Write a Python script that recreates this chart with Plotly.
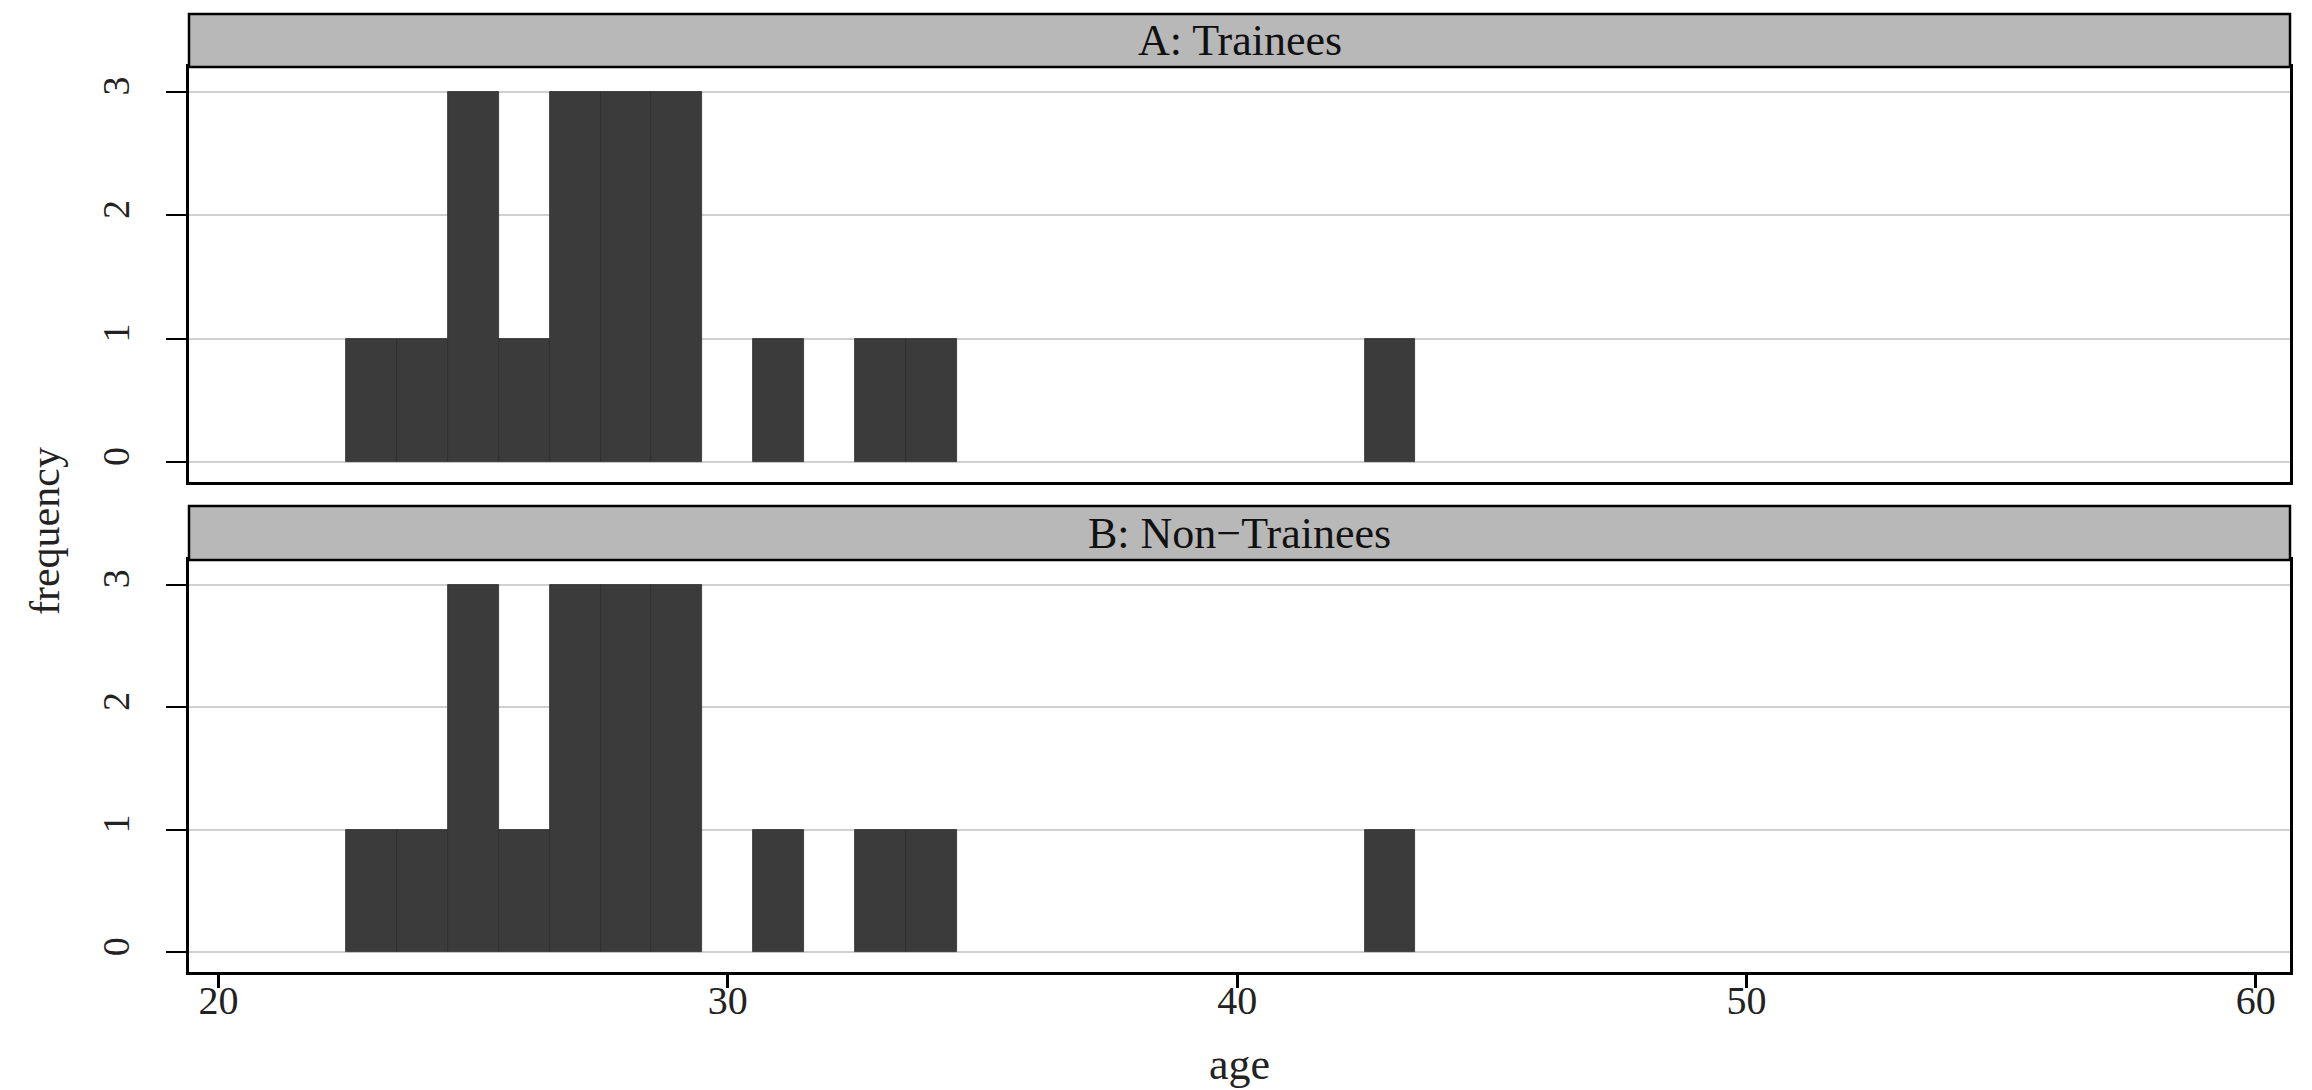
import plotly.graph_objects as go
from plotly.subplots import make_subplots

# Age frequencies (one-year bins centred on whole years)
ages = [23, 24, 25, 26, 27, 28, 29, 31, 33, 34, 43]
trainee_counts = [1, 1, 3, 1, 3, 3, 3, 1, 1, 1, 1]
nontrainee_counts = [1, 1, 3, 1, 3, 3, 3, 1, 1, 1, 1]
panel_titles = ["A: Trainees", "B: Non\u2212Trainees"]
x_ticks = [20, 30, 40, 50, 60]
y_ticks = [0, 1, 2, 3]

FONT = "Liberation Serif, Times New Roman, serif"
BAR = "#3b3b3b"
STRIP = "#b8b8b8"
W, H = 2312, 1090

fig = make_subplots(rows=2, cols=1, shared_xaxes=True, vertical_spacing=0.05)

for row, counts in ((1, trainee_counts), (2, nontrainee_counts)):
    fig.add_trace(
        go.Bar(
            x=ages, y=counts, width=1,
            marker=dict(color=BAR, line=dict(color="#2c2c2c", width=0.8)),
            showlegend=False,
        ),
        row=row, col=1,
    )

x_dom = [189 / W, 2290 / W]
top_dom = [(H - 482) / H, (H - 67) / H]
bot_dom = [(H - 972) / H, (H - 560) / H]
strip_top = [top_dom[1], (H - 14) / H]
strip_bot = [bot_dom[1], (H - 506) / H]

common_x = dict(range=[19.42, 60.67], showgrid=False, zeroline=False,
                showline=True, linecolor="black", linewidth=2.5, mirror=True,
                tickvals=x_ticks, domain=x_dom)
common_y = dict(range=[-0.16, 3.2], tickvals=y_ticks, tickangle=-90,
                showgrid=True, gridcolor="#d0d0d0", gridwidth=1.5,
                zeroline=False, showline=True, linecolor="black", linewidth=2.5,
                mirror=True, ticks="outside", ticklen=20, tickwidth=2,
                tickcolor="black", ticklabelstandoff=22,
                tickfont=dict(family=FONT, size=38, color="#222"))

fig.update_layout(
    width=W, height=H,
    margin=dict(l=0, r=0, t=0, b=0),
    paper_bgcolor="white", plot_bgcolor="white",
    bargap=0,
    xaxis=dict(**common_x, ticks="", showticklabels=False),
    xaxis2=dict(**common_x, ticks="outside", ticklen=13, tickwidth=2.5,
                tickcolor="black", ticklabelstandoff=-22,
                tickfont=dict(family=FONT, size=40, color="#222")),
    yaxis=dict(**common_y, domain=top_dom),
    yaxis2=dict(**common_y, domain=bot_dom),
)

# Panel strips with centred titles
for (y0, y1), title in zip((strip_top, strip_bot), panel_titles):
    fig.add_shape(type="rect", xref="paper", yref="paper",
                  x0=x_dom[0], x1=x_dom[1], y0=y0, y1=y1,
                  fillcolor=STRIP, line=dict(color="black", width=2.5), layer="above")
    fig.add_annotation(xref="paper", yref="paper",
                       x=(x_dom[0] + x_dom[1]) / 2, y=(y0 + y1) / 2,
                       xanchor="center", yanchor="middle",
                       text=title, showarrow=False,
                       font=dict(family=FONT, size=44, color="#111"))

# Axis titles
fig.add_annotation(xref="paper", yref="paper", x=45 / W, y=(H - 531) / H,
                   xanchor="center", yanchor="middle",
                   text="frequency", textangle=-90, showarrow=False,
                   font=dict(family=FONT, size=42, color="#222"))
fig.add_annotation(xref="paper", yref="paper", x=(x_dom[0] + x_dom[1]) / 2,
                   y=(H - 1064) / H, xanchor="center", yanchor="middle",
                   text="age", showarrow=False,
                   font=dict(family=FONT, size=44, color="#222"))

fig.write_html("out.html")
